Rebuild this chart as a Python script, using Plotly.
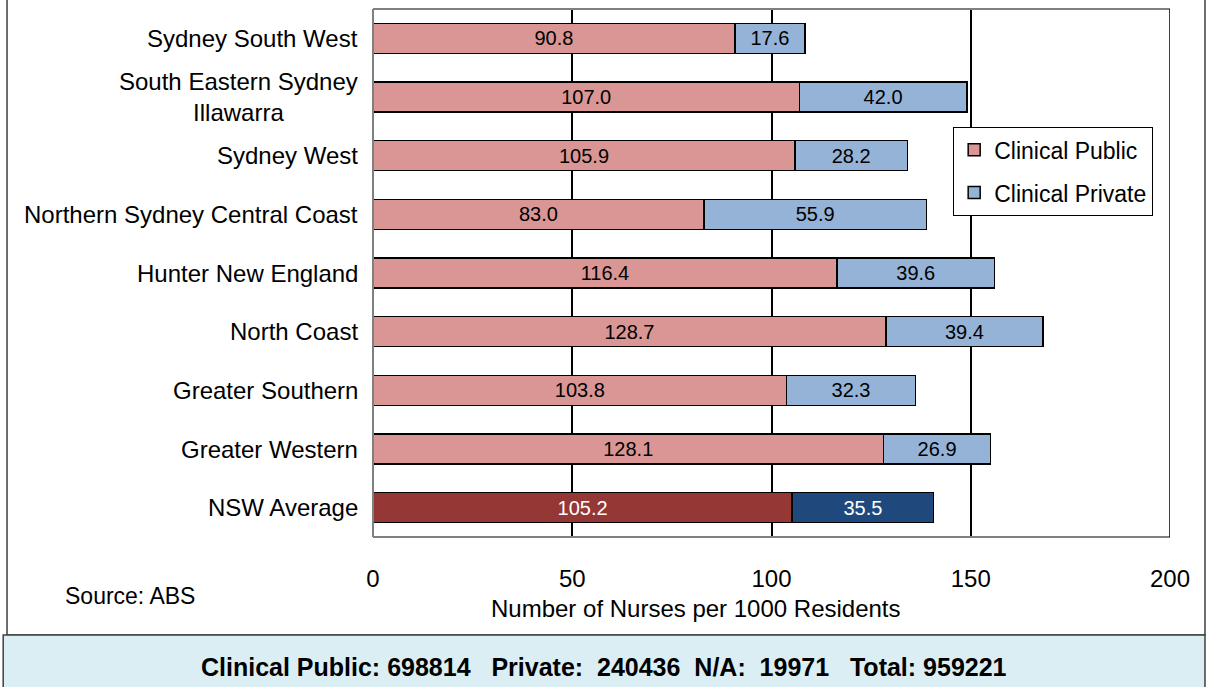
import plotly.graph_objects as go

# Area health services (top to bottom) and nurse rates per 1000 residents
regions = [
    "Sydney South West",
    "South Eastern Sydney<br>Illawarra",
    "Sydney West",
    "Northern Sydney Central Coast",
    "Hunter New England",
    "North Coast",
    "Greater Southern",
    "Greater Western",
    "NSW Average",
]
clinical_public = [90.8, 107.0, 105.9, 83.0, 116.4, 128.7, 103.8, 128.1, 105.2]
clinical_private = [17.6, 42.0, 28.2, 55.9, 39.6, 39.4, 32.3, 26.9, 35.5]
x_ticks = [0, 50, 100, 150, 200]
totals_text = ("Clinical Public: 698814&nbsp;&nbsp;&nbsp;Private:&nbsp;&nbsp;240436&nbsp;&nbsp;"
               "N/A:&nbsp;&nbsp;19971&nbsp;&nbsp;&nbsp;Total: 959221")

FONT = "Liberation Sans, Arial, sans-serif"
ids = list(range(len(regions)))
avg = len(regions) - 1

pub_colors = ["#D99694"] * avg + ["#953735"]
priv_colors = ["#95B3D7"] * avg + ["#1F497D"]
txt_colors = ["#000000"] * avg + ["#FFFFFF"]

fig = go.Figure()
fig.add_trace(go.Bar(
    y=ids, x=clinical_public, orientation="h", name="Clinical Public",
    legendgroup="pub", width=0.51,
    marker=dict(color=pub_colors, line=dict(color="#000000", width=1.5)),
    text=clinical_public, texttemplate="%{x:.1f}", textposition="inside",
    insidetextanchor="middle", textangle=0,
    textfont=dict(family=FONT, size=20, color=txt_colors),
))
fig.add_trace(go.Bar(
    y=ids, x=clinical_private, orientation="h", name="Clinical Private",
    legendgroup="priv", width=0.51,
    marker=dict(color=priv_colors, line=dict(color="#000000", width=1.5)),
    text=clinical_private, texttemplate="%{x:.1f}", textposition="inside",
    insidetextanchor="middle", textangle=0,
    textfont=dict(family=FONT, size=20, color=txt_colors),
))

# Category labels, centred text right-aligned to the axis
annotations = []
for i, name in enumerate(regions):
    annotations.append(dict(
        x=0, xref="paper", y=i, yref="y", text=name, showarrow=False,
        xanchor="right", yanchor="middle", xshift=-13, align="center",
        font=dict(family=FONT, size=24, color="#000000"),
    ))

annotations += [
    dict(x=0.405, y=-0.136, xref="paper", yref="paper", showarrow=False,
         xanchor="center", yanchor="middle",
         text="Number of Nurses per 1000 Residents",
         font=dict(family=FONT, size=24, color="#000000")),
    dict(x=-0.305, y=-0.1117, xref="paper", yref="paper", showarrow=False,
         xanchor="center", yanchor="middle",
         text="Source: ABS", font=dict(family=FONT, size=23, color="#000000")),
    dict(x=0.2898, y=-0.2462, xref="paper", yref="paper", showarrow=False,
         xanchor="center", yanchor="middle",
         text="<b>" + totals_text + "</b>",
         font=dict(family=FONT, size=25, color="#000000")),
]

shapes = [
    # outer frame
    dict(type="rect", xref="paper", yref="paper", x0=-0.4592, x1=1.0439,
         y0=-0.1856, y1=1.05, line=dict(color="#404040", width=1.5),
         fillcolor="rgba(0,0,0,0)", layer="below"),
    # totals panel
    dict(type="rect", xref="paper", yref="paper", x0=-0.464, x1=1.0439,
         y0=-0.29, y1=-0.1856, line=dict(color="#404040", width=1.5),
         fillcolor="#DBEEF3", layer="below"),
    # plot area frame
    dict(type="line", xref="paper", yref="paper", x0=0, x1=1, y0=1, y1=1,
         line=dict(color="#808080", width=2)),
    dict(type="line", xref="paper", yref="paper", x0=0, x1=1, y0=0, y1=0,
         line=dict(color="#808080", width=2)),
    dict(type="line", xref="paper", yref="paper", x0=0, x1=0, y0=0, y1=1,
         line=dict(color="#808080", width=2)),
    dict(type="line", xref="x", yref="paper", x0=200, x1=200, y0=0, y1=1,
         line=dict(color="#000000", width=1.5)),
]

fig.update_layout(
    width=1208, height=687,
    margin=dict(l=373, r=38, t=9, b=150),
    paper_bgcolor="#FFFFFF", plot_bgcolor="#FFFFFF",
    barmode="stack", bargap=0.49,
    font=dict(family=FONT, color="#000000"),
    showlegend=True,
    legend=dict(
        x=0.7277, y=0.7765, xanchor="left", yanchor="top",
        bgcolor="#FFFFFF", bordercolor="#000000", borderwidth=1.2,
        font=dict(family=FONT, size=23, color="#000000"),
        traceorder="grouped", tracegroupgap=10, itemwidth=30,
    ),
    xaxis=dict(
        range=[0, 200], tickvals=x_ticks, showgrid=True,
        gridcolor="#000000", gridwidth=1.5, zeroline=False, showline=False,
        ticks="", ticklabelstandoff=25,
        tickfont=dict(family=FONT, size=24, color="#000000"),
    ),
    yaxis=dict(
        range=[avg + 0.5, -0.5], tickvals=ids, showticklabels=False,
        showgrid=False, zeroline=False, showline=False, ticks="",
    ),
    annotations=annotations,
    shapes=shapes,
)

fig.write_html("out.html")
